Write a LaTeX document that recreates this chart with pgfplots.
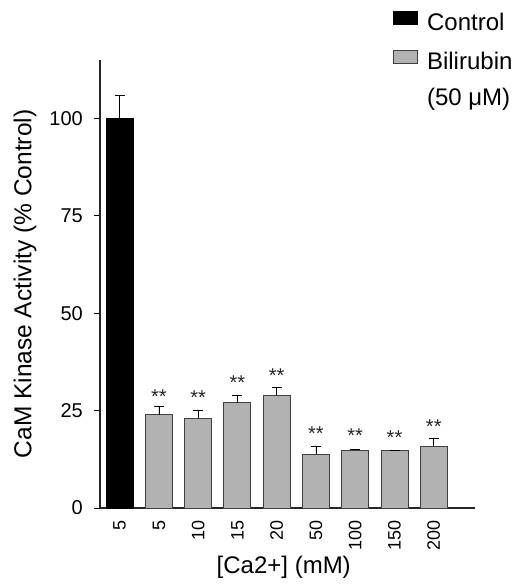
\documentclass[border=0pt]{standalone}
\usepackage{pgfplots}
\pgfplotsset{compat=1.18}
\usepackage{fontspec}
\setmainfont{Liberation Sans}
\begin{document}
\begin{tikzpicture}
\useasboundingbox (-100pt,-80pt) rectangle (418pt,508pt);
\begin{axis}[
  scale only axis,
  width=375pt, height=448pt,
  xmin=-0.5, xmax=9.05,
  ymin=0, ymax=115,
  axis x line*=bottom, axis y line*=left,
  axis line style={-, line width=1.3pt, black!85},
  xtick={0,1,2,3,4,5,6,7,8},
  xticklabels={5,5,10,15,20,50,100,150,200},
  ytick={0,25,50,75,100},
  tick align=outside,
  major tick length=6pt,
  xtick style={draw=none},
  ytick style={line width=0.8pt, black},
  /pgf/number format/assume math mode=true,
  xticklabel shift=6pt,
  xticklabel style={rotate=90, anchor=east, font=\fontsize{18}{20}\selectfont, inner sep=0pt},
  yticklabel style={font=\fontsize{20}{23}\selectfont, inner sep=0pt, xshift=-11pt},
  xlabel={[Ca2+] (mM)},
  ylabel={CaM Kinase Activity (\% Control)},
  every axis x label/.style={at={(axis description cs:0.49,-0.1317)}, anchor=center, font=\fontsize{24}{28}\selectfont},
  every axis y label/.style={at={(axis description cs:-0.2,0.5)}, rotate=90, anchor=center, font=\fontsize{24.5}{28}\selectfont},
  legend style={at={(axis description cs:0.781,1.109)}, anchor=north west, draw=none, fill=none,
    font=\fontsize{24}{28}\selectfont, inner sep=0pt, row sep=14pt, column sep=9pt,
    nodes={inner sep=0pt, text height=17pt, text depth=5pt}},
  legend cell align=left,
  legend image code/.code={\draw[#1] (0pt,0pt) rectangle (24pt,13pt);},
]
\addplot[ybar, bar width=27pt, bar shift=0pt, fill=black, draw=black,
  error bars/.cd, y dir=plus, y explicit,
  error bar style={line width=0.8pt, black},
  error mark options={rotate=90, mark size=5pt, line width=0.8pt, black}]
  coordinates {(0,100) +- (0,6)};
\addlegendentry{Control}
\addplot[ybar, bar width=27pt, bar shift=0pt, fill=black!30, draw=black!75, line width=1pt,
  error bars/.cd, y dir=plus, y explicit,
  error bar style={line width=0.8pt, black},
  error mark options={rotate=90, mark size=5pt, line width=0.8pt, black}]
  coordinates {
    (1,24) +- (0,2)
    (2,23) +- (0,2)
    (3,27) +- (0,2)
    (4,29) +- (0,2)
    (5,13.8) +- (0,2)
    (6,14.8) +- (0,0.3)
    (7,14.8) +- (0,0)
    (8,15.8) +- (0,2)
  };
\addlegendentry{Bilirubin}
\addlegendimage{empty legend}
\addlegendentry{(50 μM)}
\addplot[draw=none, mark=none, nodes near coords, point meta=explicit symbolic,
  nodes near coords style={anchor=center, font=\fontsize{20}{22}\selectfont, inner sep=0pt, black!85}, forget plot]
  coordinates {
    (1,28.7) [**]
    (2,28.4) [**]
    (3,32.2) [**]
    (4,34.1) [**]
    (5,19.2) [**]
    (6,18.7) [**]
    (7,18.1) [**]
    (8,21.0) [**]
  };
\end{axis}
\end{tikzpicture}
\end{document}
